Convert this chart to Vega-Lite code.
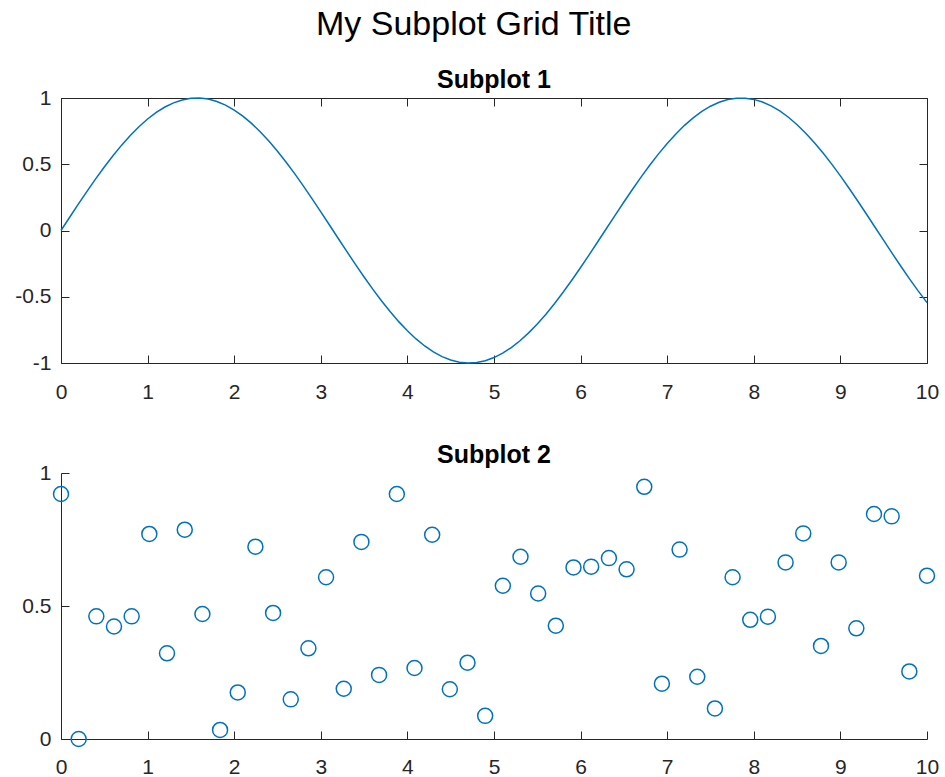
{
  "$schema": "https://vega.github.io/schema/vega-lite/v6.json",
  "padding": {"left": 14, "top": 8, "right": 5, "bottom": 0},
  "title": {"text": "My Subplot Grid Title", "anchor": "middle", "fontSize": 34, "font": "Liberation Sans", "fontWeight": "normal", "color": "#000000", "offset": -1, "dx": -3, "baseline": "alphabetic"},
  "spacing": 110,
  "bounds": "flush",
  "config": {
    "font": "Liberation Sans",
    "view": {"stroke": null},
    "axis": {"domainColor": "#262626", "tickColor": "#262626", "labelColor": "#262626", "labelFont": "Liberation Sans", "labelFontSize": 21, "grid": false, "tickSize": -8, "domainWidth": 1, "tickWidth": 1, "labelFlush": false}
  },
  "datasets": {
    "sine": [
      {"x":0,"y":0},{"x":0.1,"y":0.0998},{"x":0.2,"y":0.1987},{"x":0.3,"y":0.2955},{"x":0.4,"y":0.3894},{"x":0.5,"y":0.4794},{"x":0.6,"y":0.5646},{"x":0.7,"y":0.6442},{"x":0.8,"y":0.7174},{"x":0.9,"y":0.7833},
      {"x":1.0,"y":0.8415},{"x":1.1,"y":0.8912},{"x":1.2,"y":0.932},{"x":1.3,"y":0.9636},{"x":1.4,"y":0.9854},{"x":1.5,"y":0.9975},{"x":1.6,"y":0.9996},{"x":1.7,"y":0.9917},{"x":1.8,"y":0.9738},{"x":1.9,"y":0.9463},
      {"x":2.0,"y":0.9093},{"x":2.1,"y":0.8632},{"x":2.2,"y":0.8085},{"x":2.3,"y":0.7457},{"x":2.4,"y":0.6755},{"x":2.5,"y":0.5985},{"x":2.6,"y":0.5155},{"x":2.7,"y":0.4274},{"x":2.8,"y":0.335},{"x":2.9,"y":0.2392},
      {"x":3.0,"y":0.1411},{"x":3.1,"y":0.0416},{"x":3.2,"y":-0.0584},{"x":3.3,"y":-0.1577},{"x":3.4,"y":-0.2555},{"x":3.5,"y":-0.3508},{"x":3.6,"y":-0.4425},{"x":3.7,"y":-0.5298},{"x":3.8,"y":-0.6119},{"x":3.9,"y":-0.6878},
      {"x":4.0,"y":-0.7568},{"x":4.1,"y":-0.8183},{"x":4.2,"y":-0.8716},{"x":4.3,"y":-0.9162},{"x":4.4,"y":-0.9516},{"x":4.5,"y":-0.9775},{"x":4.6,"y":-0.9937},{"x":4.7,"y":-0.9999},{"x":4.8,"y":-0.9962},{"x":4.9,"y":-0.9825},
      {"x":5.0,"y":-0.9589},{"x":5.1,"y":-0.9258},{"x":5.2,"y":-0.8835},{"x":5.3,"y":-0.8323},{"x":5.4,"y":-0.7728},{"x":5.5,"y":-0.7055},{"x":5.6,"y":-0.6313},{"x":5.7,"y":-0.5507},{"x":5.8,"y":-0.4646},{"x":5.9,"y":-0.3739},
      {"x":6.0,"y":-0.2794},{"x":6.1,"y":-0.1822},{"x":6.2,"y":-0.0831},{"x":6.3,"y":0.0168},{"x":6.4,"y":0.1165},{"x":6.5,"y":0.2151},{"x":6.6,"y":0.3115},{"x":6.7,"y":0.4048},{"x":6.8,"y":0.4941},{"x":6.9,"y":0.5784},
      {"x":7.0,"y":0.657},{"x":7.1,"y":0.729},{"x":7.2,"y":0.7937},{"x":7.3,"y":0.8504},{"x":7.4,"y":0.8987},{"x":7.5,"y":0.938},{"x":7.6,"y":0.9679},{"x":7.7,"y":0.9882},{"x":7.8,"y":0.9985},{"x":7.9,"y":0.9989},
      {"x":8.0,"y":0.9894},{"x":8.1,"y":0.9699},{"x":8.2,"y":0.9407},{"x":8.3,"y":0.9022},{"x":8.4,"y":0.8546},{"x":8.5,"y":0.7985},{"x":8.6,"y":0.7344},{"x":8.7,"y":0.663},{"x":8.8,"y":0.5849},{"x":8.9,"y":0.501},
      {"x":9.0,"y":0.4121},{"x":9.1,"y":0.3191},{"x":9.2,"y":0.2229},{"x":9.3,"y":0.1245},{"x":9.4,"y":0.0248},{"x":9.5,"y":-0.0752},{"x":9.6,"y":-0.1743},{"x":9.7,"y":-0.2718},{"x":9.8,"y":-0.3665},{"x":9.9,"y":-0.4575},
      {"x":10.0,"y":-0.544}
    ],
    "rand": [
      {"x":0,"y":0.921},{"x":0.204,"y":0.0},{"x":0.408,"y":0.461},{"x":0.612,"y":0.423},{"x":0.816,"y":0.461},
      {"x":1.020,"y":0.771},{"x":1.224,"y":0.322},{"x":1.429,"y":0.787},{"x":1.633,"y":0.47},{"x":1.837,"y":0.034},
      {"x":2.041,"y":0.175},{"x":2.245,"y":0.723},{"x":2.449,"y":0.474},{"x":2.653,"y":0.149},{"x":2.857,"y":0.341},
      {"x":3.061,"y":0.608},{"x":3.265,"y":0.189},{"x":3.469,"y":0.741},{"x":3.673,"y":0.241},{"x":3.878,"y":0.921},
      {"x":4.082,"y":0.267},{"x":4.286,"y":0.768},{"x":4.490,"y":0.187},{"x":4.694,"y":0.287},{"x":4.898,"y":0.087},
      {"x":5.102,"y":0.576},{"x":5.306,"y":0.685},{"x":5.510,"y":0.547},{"x":5.714,"y":0.426},{"x":5.918,"y":0.645},
      {"x":6.122,"y":0.648},{"x":6.327,"y":0.68},{"x":6.531,"y":0.638},{"x":6.735,"y":0.948},{"x":6.939,"y":0.208},
      {"x":7.143,"y":0.712},{"x":7.347,"y":0.234},{"x":7.551,"y":0.115},{"x":7.755,"y":0.608},{"x":7.959,"y":0.448},
      {"x":8.163,"y":0.46},{"x":8.367,"y":0.664},{"x":8.571,"y":0.773},{"x":8.776,"y":0.35},{"x":8.980,"y":0.664},
      {"x":9.184,"y":0.416},{"x":9.388,"y":0.846},{"x":9.592,"y":0.837},{"x":9.796,"y":0.254},{"x":10,"y":0.614}
    ]
  },
  "vconcat": [
    {
      "width": 866,
      "height": 265,
      "title": {"text": "Subplot 1", "fontSize": 25, "fontWeight": "bold", "font": "Liberation Sans", "color": "#000000", "frame": "group", "anchor": "middle", "offset": -26, "baseline": "alphabetic"},
      "data": {"name": "sine"},
      "layer": [
        {
          "mark": {"type": "line", "color": "#0072BD", "strokeWidth": 1.5},
          "encoding": {
            "x": {"field": "x", "type": "quantitative", "scale": {"domain": [0, 10], "nice": false}, "axis": {"orient": "bottom", "title": null, "values": [0,1,2,3,4,5,6,7,8,9,10], "labelExpr": "'' + datum.value", "labelPadding": 26, "labelFlush": false}},
            "y": {"field": "y", "type": "quantitative", "scale": {"domain": [-1, 1], "nice": false, "zero": false}, "axis": {"orient": "left", "title": null, "values": [-1,-0.5,0,0.5,1], "labelExpr": "'' + datum.value", "labelPadding": 18, "labelFlush": false}}
          }
        },
        {
          "mark": {"type": "line", "opacity": 0},
          "encoding": {
            "x": {"field": "x", "type": "quantitative", "axis": {"orient": "top", "title": null, "values": [0,1,2,3,4,5,6,7,8,9,10], "labels": false}},
            "y": {"field": "y", "type": "quantitative", "axis": {"orient": "right", "title": null, "values": [-1,-0.5,0,0.5,1], "labels": false}}
          }
        }
      ],
      "resolve": {"axis": {"x": "independent", "y": "independent"}}
    },
    {
      "width": 866,
      "height": 266,
      "title": {"text": "Subplot 2", "fontSize": 25, "fontWeight": "bold", "font": "Liberation Sans", "color": "#000000", "frame": "group", "anchor": "middle", "offset": -26, "baseline": "alphabetic"},
      "data": {"name": "rand"},
      "mark": {"type": "point", "shape": "circle", "filled": false, "color": "#0072BD", "strokeWidth": 1.5, "size": 225, "opacity": 1},
      "encoding": {
        "x": {"field": "x", "type": "quantitative", "scale": {"domain": [0, 10], "nice": false}, "axis": {"orient": "bottom", "title": null, "values": [0,1,2,3,4,5,6,7,8,9,10], "labelExpr": "'' + datum.value", "labelPadding": 25, "labelFlush": false}},
        "y": {"field": "y", "type": "quantitative", "scale": {"domain": [0, 1], "nice": false}, "axis": {"orient": "left", "title": null, "values": [0,0.5,1], "labelExpr": "'' + datum.value", "labelPadding": 18, "labelFlush": false}}
      }
    }
  ]
}
